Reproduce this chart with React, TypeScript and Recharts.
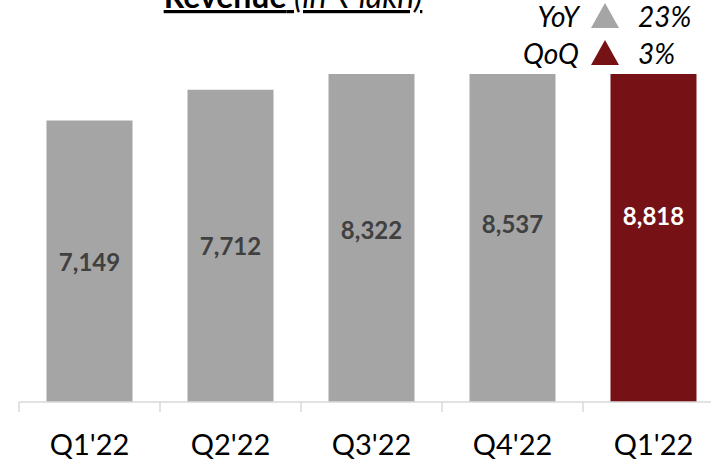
import { BarChart, Bar, XAxis, YAxis, Cell, LabelList } from "recharts";

const quarters = ["Q1'22", "Q2'22", "Q3'22", "Q4'22", "Q1'22"];
const revenue = [7149, 7712, 8322, 8537, 8818];
const barColors = ["#a5a5a5", "#a5a5a5", "#a5a5a5", "#a5a5a5", "#761216"];
const labelColors = ["#404040", "#404040", "#404040", "#404040", "#ffffff"];
const growthLabels = ["YoY", "QoQ"];
const growthValues = [23, 3];
const growthColors = ["#a5a5a5", "#761216"];

const data = quarters.map((quarter, i) => ({ quarter, revenue: revenue[i] }));

const CHART_W = 724;
const CHART_H = 461;
const LEFT = 19;
const STEP = (CHART_W - LEFT) / quarters.length;

const QuarterTick = (props: any) => {
  const { x, y, payload } = props;
  return (
    <g>
      <line
        x1={x - STEP / 2}
        x2={x - STEP / 2}
        y1={y}
        y2={y + 10}
        stroke="#d9d9d9"
        strokeWidth={1.5}
      />
      <text x={x} y={y + 53} textAnchor="middle" fontSize={29} fill="#000">
        {payload.value}
      </text>
    </g>
  );
};

const ValueLabel = (props: any) => {
  const { x, y, width, height, value, index } = props;
  return (
    <text
      x={x + width / 2}
      y={y + height / 2}
      textAnchor="middle"
      dominantBaseline="central"
      fontSize={24}
      fontWeight="bold"
      fill={labelColors[index]}
    >
      {Number(value).toLocaleString("en-US")}
    </text>
  );
};

export default function App() {
  return (
    <div
      style={{
        position: "absolute",
        left: 0,
        top: 0,
        width: 711,
        height: 461,
        overflow: "hidden",
        background: "#fff",
        fontFamily: "Lato, 'Open Sans', sans-serif",
      }}
    >
      <BarChart
        width={CHART_W}
        height={CHART_H}
        data={data}
        margin={{ top: 74, right: 0, bottom: 0, left: LEFT }}
        barCategoryGap="19.5%"
      >
        <XAxis
          dataKey="quarter"
          height={59}
          axisLine={{ stroke: "#d9d9d9", strokeWidth: 1.5 }}
          tickLine={false}
          tickSize={0}
          tickMargin={0}
          interval={0}
          tick={<QuarterTick />}
        />
        <YAxis hide domain={[2000, 8000]} allowDataOverflow />
        <Bar dataKey="revenue" isAnimationActive={false}>
          {data.map((d, i) => (
            <Cell key={i} fill={barColors[i]} />
          ))}
          <LabelList dataKey="revenue" content={<ValueLabel />} />
        </Bar>
      </BarChart>
      <svg
        width={711}
        height={80}
        style={{ position: "absolute", left: 0, top: 0 }}
      >
        <text
          x={293}
          y={8}
          textAnchor="middle"
          fontSize={32}
          textDecoration="underline"
          fill="#000"
        >
          <tspan fontWeight="bold">Revenue</tspan>
          <tspan fontStyle="italic"> (in ₹ lakh)</tspan>
        </text>
        {growthLabels.map((label, i) => {
          const base = 27 + i * 37;
          return (
            <g key={label}>
              <text
                x={579}
                y={base}
                textAnchor="end"
                fontSize={28}
                fontStyle="italic"
                fill="#000"
              >
                {label}
              </text>
              <polygon
                points={`${591},${base + 1} ${605},${base - 24} ${619},${base + 1}`}
                fill={growthColors[i]}
              />
              <text
                x={638}
                y={base}
                fontSize={28}
                fontStyle="italic"
                fill="#000"
              >
                {growthValues[i]}%
              </text>
            </g>
          );
        })}
      </svg>
    </div>
  );
}
